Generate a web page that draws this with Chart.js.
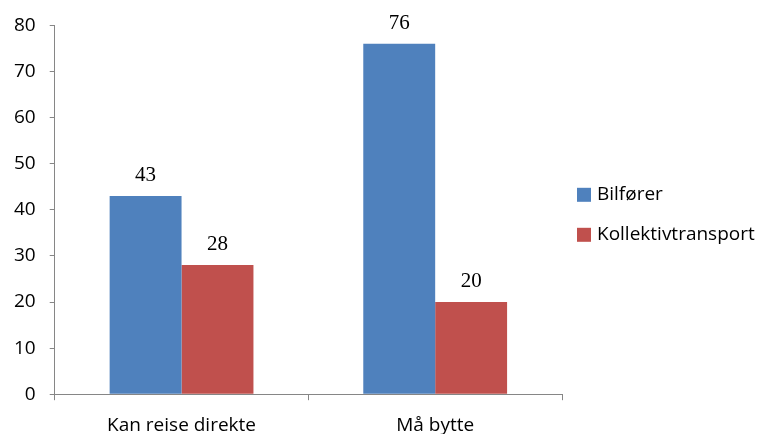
<!DOCTYPE html>
<html>
<head>
<meta charset="utf-8">
<script src="https://cdn.jsdelivr.net/npm/chart.js@4.4.1/dist/chart.umd.min.js"></script>
<style>
  html, body { margin: 0; padding: 0; background: #fff; }
  #wrap { width: 765px; height: 434px; position: relative; }
</style>
</head>
<body>
<div id="wrap"><canvas id="chart"></canvas></div>
<script>
var categories = ['Kan reise direkte', 'Må bytte'];
var seriesNames = ['Bilfører', 'Kollektivtransport'];
var bilforer = [43, 76];
var kollektiv = [28, 20];
var yTicks = [0, 10, 20, 30, 40, 50, 60, 70, 80];

var axisColor = '#868686';
var fontFamily = '"Open Sans", Lato, sans-serif';
var labelFont = { family: fontFamily, size: 19 };

// prints each bar's value just above it
var valueLabels = {
  id: 'valueLabels',
  afterDatasetsDraw: function(chart) {
    var ctx = chart.ctx;
    ctx.save();
    ctx.font = '21px "Liberation Serif", "DejaVu Serif", serif';
    ctx.fillStyle = '#000';
    ctx.textAlign = 'center';
    ctx.textBaseline = 'alphabetic';
    chart.data.datasets.forEach(function(ds, i) {
      chart.getDatasetMeta(i).data.forEach(function(bar, j) {
        ctx.fillText(ds.data[j], bar.x, bar.y - 15);
      });
    });
    ctx.restore();
  }
};

// legend to the right of the plot: square swatch + series name
var sideLegend = {
  id: 'sideLegend',
  afterDraw: function(chart) {
    var ctx = chart.ctx;
    var area = chart.chartArea;
    var x = area.right + 15;
    var y0 = (area.top + area.bottom) / 2 - 15;
    ctx.save();
    ctx.font = '19px ' + fontFamily;
    ctx.textBaseline = 'middle';
    ctx.textAlign = 'left';
    chart.data.datasets.forEach(function(ds, i) {
      var cy = y0 + i * 40;
      ctx.fillStyle = ds.backgroundColor;
      ctx.fillRect(x, cy - 7, 14, 14);
      ctx.fillStyle = '#000';
      ctx.fillText(ds.label, x + 20, cy);
    });
    ctx.restore();
  }
};

new Chart(document.getElementById('chart'), {
  type: 'bar',
  data: {
    labels: categories,
    datasets: [
      { label: seriesNames[0], data: bilforer, backgroundColor: '#4F81BD', borderWidth: 0 },
      { label: seriesNames[1], data: kollektiv, backgroundColor: '#C0504D', borderWidth: 0 }
    ]
  },
  options: {
    responsive: true,
    maintainAspectRatio: false,
    animation: false,
    layout: { padding: { top: 18, right: 203, bottom: -17, left: 0 } },
    datasets: { bar: { categoryPercentage: 0.567, barPercentage: 1 } },
    plugins: {
      tooltip: { enabled: false },
      legend: { display: false }
    },
    scales: {
      x: {
        grid: { drawOnChartArea: false, drawTicks: true, tickLength: 6, color: axisColor, offset: true },
        border: { display: true, color: axisColor },
        ticks: { color: '#000', font: labelFont, padding: 14 }
      },
      y: {
        min: 0,
        max: 80,
        afterBuildTicks: function(axis) {
          axis.ticks = yTicks.map(function(v) { return { value: v }; });
        },
        grid: { drawOnChartArea: false, drawTicks: true, tickLength: 5, color: axisColor },
        border: { display: true, color: axisColor },
        ticks: { color: '#000', font: labelFont, padding: 14 }
      }
    }
  },
  plugins: [valueLabels, sideLegend]
});
</script>
</body>
</html>
